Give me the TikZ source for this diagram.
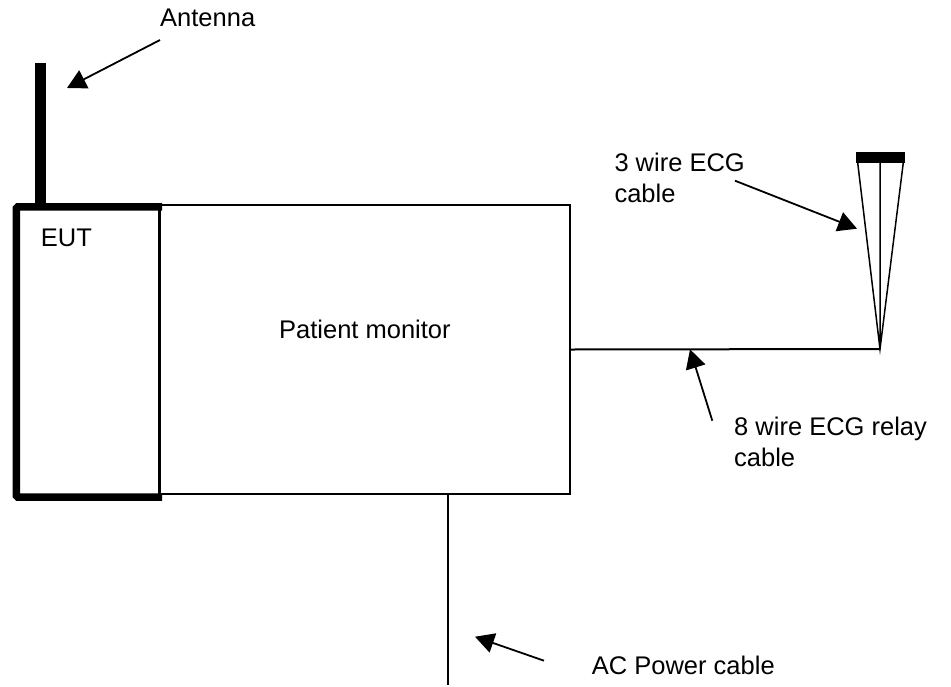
\documentclass[tikz,border=0pt]{standalone}
\usepackage{fontspec}
\setmainfont{Liberation Sans}
\usepackage{tikz}
\usetikzlibrary{arrows.meta}
\tikzset{
  ar/.style={-{Triangle[length=19pt,width=20pt]},line width=1.8pt},
  box/.style={draw,rectangle,inner sep=0pt},
  lbl/.style={inner sep=0pt,anchor=base west,align=left,font=\fontsize{25.5}{31}\selectfont}
}
\begin{document}
\begin{tikzpicture}[x=1pt,y=-1pt]
\useasboundingbox (0,0) rectangle (951,686);
\node[box,line width=2pt,minimum width=410pt,minimum height=289pt] (mon) at (365,349.5) {};
\node[box,draw=none,minimum width=142.5pt,minimum height=290pt] (eut) at (87.75,352) {};
\draw[line width=7.5pt,rounded corners=1.5pt] ([xshift=3pt]eut.north east) -- (eut.north west) -- (eut.south west) -- ([xshift=3pt]eut.south east);
\draw[line width=3pt] (eut.north east) -- (eut.south east);
\node[lbl] (eutlbl) at (40.7,246.7) {EUT};
\node[lbl] (monlbl) at (279,338.3) {Patient monitor};
% antenna
\coordinate (anttop) at (40,63);
\draw[line width=11pt] (anttop) -- (anttop |- eut.north);
\node[lbl] (antlbl) at (160,26.7) {Antenna};
\coordinate (anttail) at (160,40); \coordinate (anttip) at (67,88);
\draw[ar] (anttail) -- (anttip);
% ECG cables
\coordinate (apex) at (880,349);
\coordinate (wl) at (857,157); \coordinate (wm) at (880,157); \coordinate (wr) at (904,157);
\draw[line width=2pt] (mon.east) -- (apex);
\draw[line width=1.5pt] (wl) -- (apex) -- (wr) (wm) -- (apex);
\draw[line width=11pt] (856,157) -- (904.5,157);
\node[lbl] (ecg3lbl) at (614.3,202) {3 wire ECG\\cable};
\coordinate (ecg3tail) at (735,180.7); \coordinate (ecg3tip) at (857,228.7);
\draw[ar] (ecg3tail) -- (ecg3tip);
\node[lbl] (ecg8lbl) at (734,466.5) {8 wire ECG relay\\cable};
\coordinate (ecg8tail) at (712.3,420.7); \coordinate (ecg8tip) at (690,349.3);
\draw[ar] (ecg8tail) -- (ecg8tip);
% power
\coordinate (plug) at (448.3,685);
\draw[line width=2pt] (plug |- mon.south) -- (plug);
\node[lbl] (aclbl) at (591.7,674) {AC Power cable};
\coordinate (actail) at (544,660.7); \coordinate (actip) at (475,636.7);
\draw[ar] (actail) -- (actip);
\end{tikzpicture}
\end{document}
